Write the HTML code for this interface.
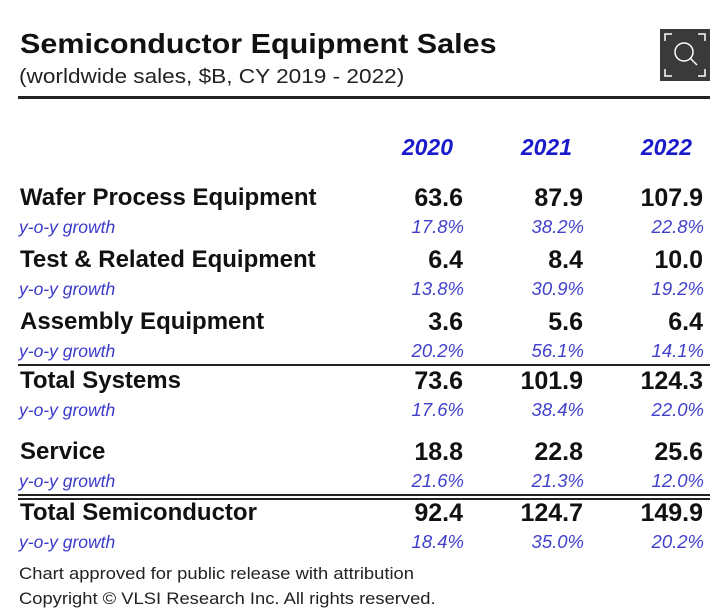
<!DOCTYPE html>
<html><head><meta charset="utf-8"><style>
body{margin:0;width:720px;height:613px;background:#fff;position:relative;overflow:hidden;font-family:"Liberation Sans",Arial,sans-serif}
.a{position:absolute;white-space:nowrap;line-height:1}
.lbl{font-size:24px;font-weight:bold;color:#111;margin-top:-2px}
.gl{font-size:17.5px;font-style:italic;color:#3a3acc}
.v{font-size:25px;font-weight:bold;color:#111;text-align:right;width:120px;margin-top:-2px}
.g{font-size:18.5px;font-style:italic;color:#4040cc;text-align:right;width:120px;margin-top:-1px}
.yr{font-size:23px;font-weight:bold;font-style:italic;color:#1a1acc;text-align:right;width:120px;margin-top:-1px}
.rule{position:absolute;left:18px;width:692px;background:#222}
</style></head><body>
<div class="a" style="left:20px;top:30px;font-size:28px;font-weight:bold;color:#111;transform:scaleX(1.09);transform-origin:left">Semiconductor Equipment Sales</div>
<div class="a" style="left:19px;top:67px;font-size:20px;color:#222;transform:scaleX(1.13);transform-origin:left">(worldwide sales, $B, CY 2019 - 2022)</div>
<div class="rule" style="top:96px;height:3px"></div>
<div style="position:absolute;left:660px;top:29px;width:50px;height:52px;background:#3a3a3a">
<svg width="50" height="52"><g stroke="#fff" stroke-width="1.5" fill="none"><path d="M5 12V5H12M38 5H45V12M5 40V47H12M38 47H45V40"/><circle cx="24" cy="23" r="9"/><path d="M30.5 29.5L37 36"/></g></svg></div>
<div class="rule" style="top:364px;height:2px"></div>
<div class="rule" style="top:494px;height:2px"></div>
<div class="rule" style="top:498px;height:2px"></div>
<div class="a" style="left:19px;top:565px;font-size:17px;color:#222;transform:scaleX(1.08);transform-origin:left">Chart approved for public release with attribution</div>
<div class="a" style="left:19px;top:590px;font-size:17px;color:#222;transform:scaleX(1.08);transform-origin:left">Copyright © VLSI Research Inc. All rights reserved.</div>
<script>
const years=["2020","2021","2022"];
const categories=["Wafer Process Equipment","Test & Related Equipment","Assembly Equipment","Total Systems","Service","Total Semiconductor"];
const sales2020=[63.6,6.4,3.6,73.6,18.8,92.4];
const sales2021=[87.9,8.4,5.6,101.9,22.8,124.7];
const sales2022=[107.9,10.0,6.4,124.3,25.6,149.9];
const growth2020=[17.8,13.8,20.2,17.6,21.6,18.4];
const growth2021=[38.2,30.9,56.1,38.4,21.3,35.0];
const growth2022=[22.8,19.2,14.1,22.0,12.0,20.2];
const rowTops=[188,250,312,371,442,503];
const colRight=[463,583,703];
const yearRight=[453,572,692];
const sales=[sales2020,sales2021,sales2022],growth=[growth2020,growth2021,growth2022];
function add(cls,txt,left,top){const d=document.createElement('div');d.className='a '+cls;d.textContent=txt;d.style.left=left+'px';d.style.top=top+'px';document.body.appendChild(d);return d;}
years.forEach((y,j)=>{const d=add('yr',y,yearRight[j]-120,137);

});
categories.forEach((c,i)=>{const t=rowTops[i];
const l=add('lbl',c,20,t);


const gl=add('gl','y-o-y growth',19,t+31);


years.forEach((y,j)=>{const v=add('v',sales[j][i].toFixed(1),colRight[j]-120,t);


const g=add('g',growth[j][i].toFixed(1)+'%',colRight[j]-119,t+31);

});});
</script>
</body></html>
